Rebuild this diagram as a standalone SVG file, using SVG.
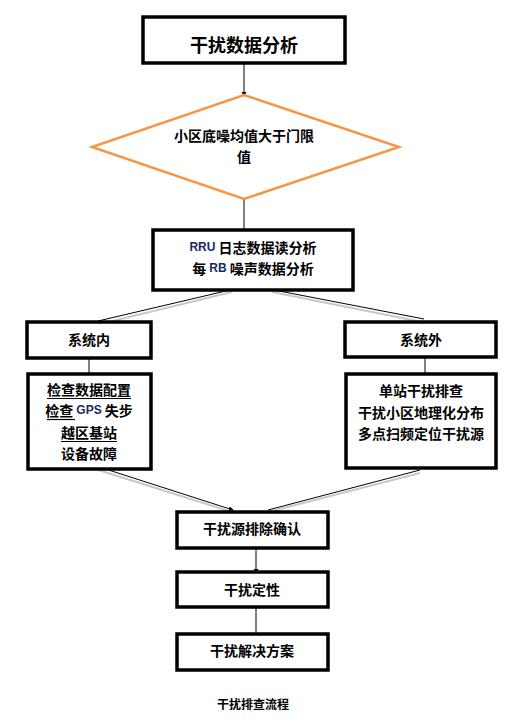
<svg xmlns="http://www.w3.org/2000/svg" width="526" height="727" viewBox="0 0 526 727">
<style>
.box{fill:#fff;stroke:#000;stroke-width:3.5}
.t{font-family:"Noto Sans CJK SC","Noto Sans CJK JP",sans-serif;font-size:14px;font-weight:bold;fill:#000;text-anchor:middle;dominant-baseline:central}
.lt{font-family:"Liberation Sans",sans-serif;font-weight:bold;fill:#1a2a66}
.c{stroke:#000;stroke-width:1;fill:none}
.sh{stroke:#c8c8c8;stroke-width:2;fill:none}
.ul{stroke:#000;stroke-width:1.2}
</style>
<defs>
<marker id="ah" viewBox="0 0 6 6" refX="5" refY="3" markerWidth="5" markerHeight="5" orient="auto" markerUnits="userSpaceOnUse">
<path d="M0,0 L6,3 L0,6 z" fill="#000"/>
</marker>
</defs>
<rect width="526" height="727" fill="#fff"/>
<g id="connectors">
<line class="c" x1="244" y1="63" x2="244" y2="96" marker-end="url(#ah)"/>
<line class="c" x1="244" y1="199" x2="244" y2="229"/>
<line class="sh" x1="232" y1="292" x2="100" y2="324"/>
<line class="c" x1="230" y1="290" x2="98" y2="321"/>
<line class="sh" x1="272" y1="292" x2="422" y2="322"/>
<line class="c" x1="274" y1="290" x2="424" y2="319"/>
<line class="c" x1="89" y1="358" x2="89" y2="382" marker-end="url(#ah)"/>
<line class="c" x1="425" y1="357" x2="425" y2="380"/>
<line class="sh" x1="92" y1="468" x2="232" y2="512"/>
<line class="c" x1="93" y1="465" x2="233" y2="510" marker-end="url(#ah)"/>
<line class="sh" x1="420" y1="473" x2="268" y2="512"/>
<line class="c" x1="420" y1="470" x2="268" y2="510"/>
<line class="c" x1="256" y1="548" x2="256" y2="573" marker-end="url(#ah)"/>
<line class="c" x1="256" y1="607" x2="256" y2="640" marker-end="url(#ah)"/>
</g>
<g id="n1">
<rect class="box" x="143" y="17" width="202" height="46"/>
<text class="t" x="244" y="44" style="font-size:18px">干扰数据分析</text>
</g>
<g id="n2">
<polygon points="244,95 399,147 244,199 92,147" fill="#fff" stroke="#f79646" stroke-width="2.5"/>
<text class="t" x="244" y="135">小区底噪均值大于门限</text>
<text class="t" x="244" y="156">值</text>
</g>
<g id="n3">
<rect class="box" x="153" y="230" width="200" height="60"/>
<text class="t" x="253" y="247"><tspan class="lt" style="font-size:12px">RRU</tspan> 日志数据读分析</text>
<text class="t" x="253" y="268">每 <tspan class="lt" style="font-size:12px">RB</tspan> 噪声数据分析</text>
</g>
<g id="n4">
<rect class="box" x="27" y="322" width="124" height="36"/>
<text class="t" x="89" y="339">系统内</text>
</g>
<g id="n5">
<rect class="box" x="345" y="322" width="151" height="35"/>
<text class="t" x="421" y="339">系统外</text>
</g>
<g id="n6">
<rect class="box" x="28" y="374" width="123" height="95"/>
<text class="t" x="89" y="389">检查数据配置</text>
<text class="t" x="89" y="410">检查 <tspan class="lt" style="font-size:12px">GPS</tspan> 失步</text>
<text class="t" x="89" y="432">越区基站</text>
<text class="t" x="89" y="453">设备故障</text>
<line class="ul" x1="47" y1="398.5" x2="131" y2="398.5"/>
<line class="ul" x1="47" y1="419.5" x2="75" y2="419.5"/>
<line class="ul" x1="61" y1="441.5" x2="117" y2="441.5"/>
</g>
<g id="n7">
<rect class="box" x="346" y="374" width="150" height="94"/>
<text class="t" x="421" y="390">单站干扰排查</text>
<text class="t" x="421" y="412">干扰小区地理化分布</text>
<text class="t" x="421" y="433">多点扫频定位干扰源</text>
</g>
<g id="n8">
<rect class="box" x="177" y="512" width="151" height="36"/>
<text class="t" x="252" y="528">干扰源排除确认</text>
</g>
<g id="n9">
<rect class="box" x="177" y="572" width="151" height="35"/>
<text class="t" x="252" y="589">干扰定性</text>
</g>
<g id="n10">
<rect class="box" x="177" y="634" width="151" height="36"/>
<text class="t" x="252" y="650">干扰解决方案</text>
</g>
<text class="t" x="253" y="703" style="font-size:12px">干扰排查流程</text>
</svg>
